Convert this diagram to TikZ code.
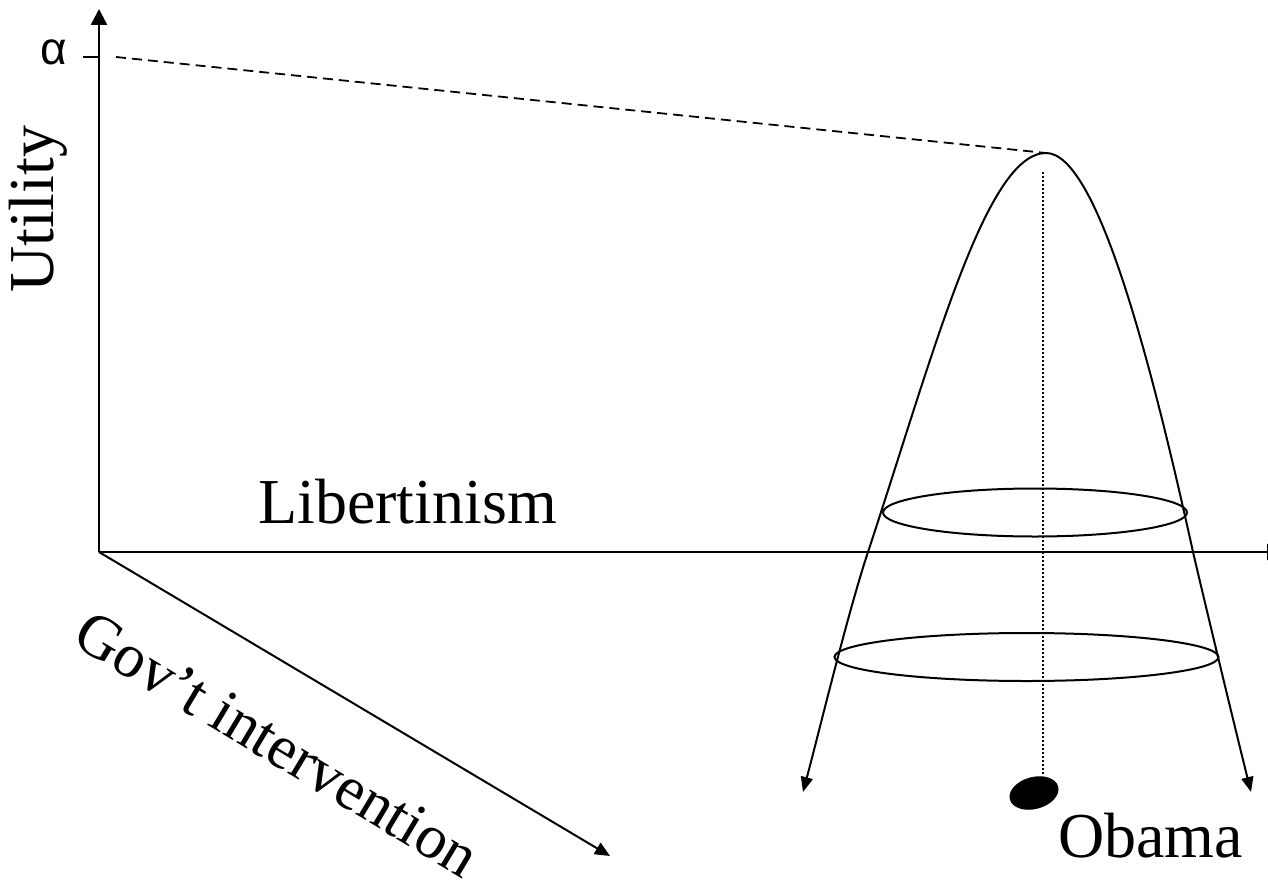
\documentclass[tikz,border=0pt]{standalone}
\usepackage{fontspec}
\setmainfont{Liberation Serif}
\newfontfamily\alphafont{Liberation Sans}
\usetikzlibrary{arrows.meta,shapes.geometric}
\begin{document}
\begin{tikzpicture}[x=1pt,y=-1pt,
  axis/.style={line width=2.5pt},
  thin axis/.style={line width=2pt},
  curve/.style={line width=2pt},
  ring/.style={draw, ellipse, line width=2pt, inner sep=0pt},
  lab/.style={inner sep=0pt, font=\fontsize{64}{64}\selectfont},
  bigtip/.tip={Triangle[length=16pt,width=16pt]},
  smalltip/.tip={Triangle[length=15pt,width=13pt]},
  curvetip/.tip={Triangle[length=15pt,width=12pt]},
  dashline/.style={line width=1.8pt, dash pattern=on 10pt off 6pt},
  dotline/.style={line width=2pt, dash pattern=on 2pt off 2pt}]
\clip (0,0) rectangle (1268,888);
% key points
\coordinate (O) at (99,552);
\coordinate (yTip) at (99,9);
\coordinate (xTip) at (1283,552);
\coordinate (zTip) at (610,856);
\coordinate (tickL) at (83,57);
\coordinate (tickR) at (99,57);
\coordinate (dashStart) at (116,57);
\coordinate (peak) at (1046,153);
\coordinate (lTip) at (803,792);
\coordinate (rTip) at (1251,792);
\coordinate (lCross) at (868,552);
\coordinate (rCross) at (1193,552);
\coordinate (dotTop) at (1043,172);
\coordinate (dotBot) at (1043,776);
% axes
\draw[axis,-bigtip] (O) -- (yTip);
\draw[axis,-bigtip] (O) -- (xTip);
\draw[thin axis,-smalltip] (O) -- (zTip);
\draw[axis] (tickL) -- (tickR);
% dashed level line
\draw[dashline] (dashStart) -- (peak);
% utility curve
\draw[curve, curvetip-curvetip]
  (lTip) .. controls (819,732) and (848,612) .. (lCross)
  .. controls (934,352) and (986,153) .. (peak)
  .. controls (1096,153) and (1149,352) .. (rCross)
  .. controls (1207,612) and (1236,732) .. (rTip);
% indifference rings
\node[ring, minimum width=304pt, minimum height=48pt] (ring1) at (1035,512.5) {};
\node[ring, minimum width=384pt, minimum height=48pt] (ring2) at (1026.5,657) {};
% dotted vertical
\draw[dotline] (dotTop) -- (dotBot);
% Obama point
\node[fill, ellipse, minimum width=50pt, minimum height=32pt, inner sep=0pt, rotate=15] (dot) at (1034,793) {};
% labels
\node[inner sep=0pt, anchor=base, font=\alphafont\fontsize{46}{46}\selectfont] (alpha) at (54,65) {α};
\node[lab, anchor=base west, rotate=90] (utility) at (53,293) {Utility};
\node[lab, anchor=base west] (lib) at (258,523) {Libertinism};
\node[inner sep=0pt, font=\fontsize{62}{62}\selectfont, anchor=base west, rotate=-31] (gov) at (70,643) {Gov’t intervention};
\node[lab, anchor=base west] (obama) at (1058,857) {Obama};
\end{tikzpicture}
\end{document}
